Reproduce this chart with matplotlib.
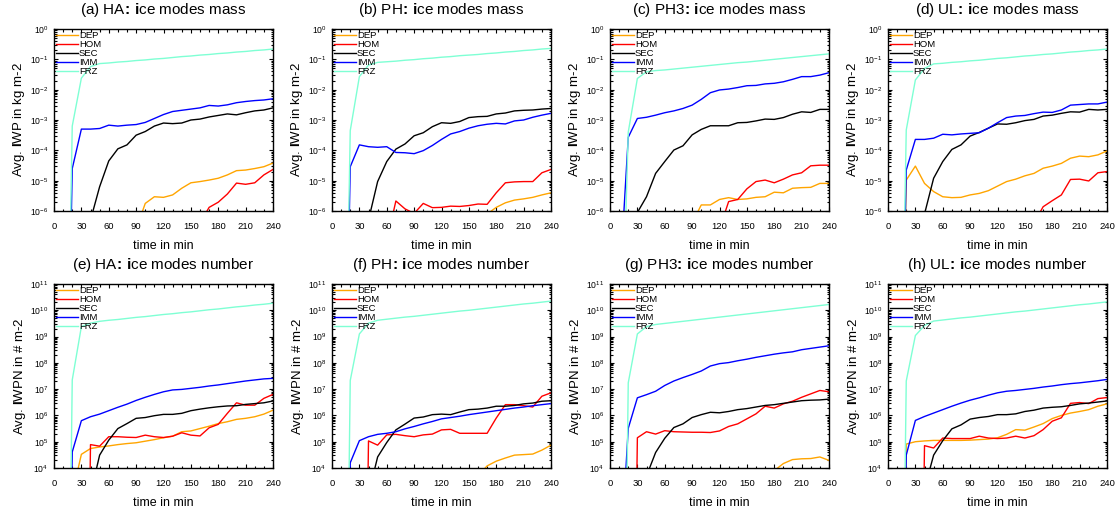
import matplotlib
matplotlib.use("Agg")
import matplotlib.pyplot as plt
import numpy as np
from matplotlib.ticker import MultipleLocator, LogLocator, NullFormatter

plt.rcParams['font.family'] = ['Liberation Sans', 'DejaVu Sans']
plt.rcParams['mathtext.fontset'] = 'custom'
plt.rcParams['mathtext.rm'] = 'Liberation Sans'
plt.rcParams['mathtext.it'] = 'Liberation Sans:italic'
plt.rcParams['mathtext.bf'] = 'Liberation Sans:bold'

time = np.arange(0, 250, 10)  # minutes
labels = ['DEP', 'HOM', 'SEC', 'IMM', 'FRZ']
colors = ['#FFA500', '#FF0000', '#000000', '#0000FF', '#7FFFD4']

# values below are log10 of the plotted quantity (-20 = no ice yet)
# (a) HA mass, kg m-2
ha_mass_dep = [-20, -20, -20, -20, -20, -20, -20, -20, -20, -6.6, -5.75, -5.53, -5.55, -5.47, -5.25, -5.07, -5.03, -4.98, -4.92, -4.81, -4.67, -4.65, -4.6, -4.54, -4.42]
ha_mass_hom = [-20, -20, -20, -20, -20, -20, -20, -20, -20, -20, -20, -20, -20, -20, -20, -20, -6.4, -5.88, -5.71, -5.44, -5.08, -5.12, -5.07, -4.81, -4.63]
ha_mass_sec = [-20, -20, -20, -20, -6.3, -5.2, -4.35, -3.95, -3.82, -3.5, -3.38, -3.2, -3.1, -3.12, -3.1, -3.0, -2.97, -2.9, -2.85, -2.8, -2.83, -2.76, -2.7, -2.67, -2.6]
ha_mass_imm = [-20, -20, -4.6, -3.3, -3.3, -3.28, -3.17, -3.2, -3.17, -3.15, -3.08, -2.95, -2.82, -2.72, -2.68, -2.64, -2.6, -2.52, -2.54, -2.5, -2.43, -2.39, -2.36, -2.34, -2.3]
ha_mass_frz = [-20, -20, -3.2, -1.62, -1.24, -1.14, -1.12, -1.09, -1.07, -1.04, -1.02, -0.99, -0.97, -0.94, -0.91, -0.89, -0.86, -0.84, -0.81, -0.79, -0.76, -0.74, -0.71, -0.69, -0.66]

# (b) PH mass
ph_mass_dep = [-20, -20, -20, -20, -20, -20, -20, -20, -20, -20, -20, -20, -20, -20, -20, -20, -20, -6.1, -5.88, -5.73, -5.64, -5.6, -5.55, -5.47, -5.4]
ph_mass_hom = [-20, -20, -20, -20, -20, -20, -7.0, -5.67, -5.93, -6.08, -5.75, -5.89, -5.88, -5.84, -5.85, -5.82, -5.77, -5.78, -5.4, -5.07, -5.04, -5.03, -5.03, -4.74, -4.63]
ph_mass_sec = [-20, -20, -20, -20, -6.3, -5.03, -4.37, -3.96, -3.79, -3.52, -3.42, -3.22, -3.09, -3.11, -3.05, -2.92, -2.89, -2.88, -2.8, -2.77, -2.7, -2.68, -2.67, -2.64, -2.62]
ph_mass_imm = [-20, -20, -4.54, -3.82, -3.88, -3.9, -3.88, -4.07, -4.08, -4.11, -4.01, -3.84, -3.64, -3.46, -3.38, -3.27, -3.19, -3.14, -3.11, -3.13, -3.03, -3.0, -2.91, -2.84, -2.78]
ph_mass_frz = [-20, -20, -3.35, -1.57, -1.19, -1.1, -1.08, -1.06, -1.03, -1.01, -0.98, -0.96, -0.93, -0.91, -0.88, -0.86, -0.84, -0.81, -0.79, -0.76, -0.74, -0.71, -0.69, -0.66, -0.64]

# (c) PH3 mass
ph3_mass_dep = [-20, -20, -20, -20, -20, -20, -20, -20, -20, -6.4, -5.8, -5.8, -5.62, -5.56, -5.62, -5.6, -5.55, -5.53, -5.38, -5.4, -5.25, -5.23, -5.22, -5.09, -5.09]
ph3_mass_hom = [-20, -20, -20, -20, -20, -20, -20, -20, -20, -20, -20, -20, -6.6, -5.69, -5.62, -5.27, -5.03, -4.98, -5.07, -4.95, -4.81, -4.74, -4.51, -4.49, -4.49]
ph3_mass_sec = [-20, -20, -20, -6.05, -5.53, -4.76, -4.37, -3.99, -3.85, -3.49, -3.31, -3.19, -3.19, -3.19, -3.09, -3.08, -3.03, -2.97, -2.98, -2.92, -2.81, -2.73, -2.75, -2.65, -2.65]
ph3_mass_imm = [-20, -8.7, -3.57, -2.95, -2.91, -2.84, -2.76, -2.7, -2.62, -2.51, -2.32, -2.1, -2.01, -1.98, -1.93, -1.87, -1.86, -1.81, -1.79, -1.74, -1.66, -1.57, -1.57, -1.52, -1.44]
ph3_mass_frz = [-20, -13.8, -3.4, -1.63, -1.41, -1.37, -1.35, -1.32, -1.29, -1.26, -1.23, -1.2, -1.17, -1.14, -1.11, -1.09, -1.06, -1.03, -1.0, -0.97, -0.94, -0.91, -0.88, -0.85, -0.82]

# (d) UL mass
ul_mass_dep = [-20, -20, -4.98, -4.52, -5.09, -5.36, -5.53, -5.56, -5.55, -5.47, -5.42, -5.33, -5.18, -5.03, -4.95, -4.84, -4.76, -4.59, -4.52, -4.43, -4.26, -4.19, -4.21, -4.15, -4.02]
ul_mass_hom = [-20, -20, -20, -20, -20, -20, -20, -20, -20, -20, -20, -20, -20, -20, -20, -20, -6.4, -5.86, -5.66, -5.47, -4.96, -4.95, -5.01, -4.74, -4.7]
ul_mass_sec = [-20, -20, -20, -20, -6.1, -4.92, -4.37, -3.97, -3.82, -3.53, -3.41, -3.27, -3.13, -3.14, -3.09, -3.02, -2.98, -2.87, -2.84, -2.78, -2.73, -2.74, -2.65, -2.67, -2.65]
ul_mass_imm = [-20, -20, -4.65, -3.64, -3.64, -3.6, -3.47, -3.49, -3.46, -3.44, -3.42, -3.27, -3.09, -2.92, -2.87, -2.85, -2.79, -2.74, -2.75, -2.67, -2.51, -2.49, -2.47, -2.47, -2.41]
ul_mass_frz = [-20, -20, -3.33, -1.68, -1.3, -1.15, -1.13, -1.1, -1.08, -1.05, -1.03, -1.0, -0.97, -0.95, -0.92, -0.89, -0.87, -0.84, -0.82, -0.79, -0.76, -0.74, -0.71, -0.69, -0.66]

# (e) HA number, # m-2
ha_num_dep = [-20, -20, 3.0, 4.52, 4.74, 4.8, 4.84, 4.89, 4.93, 4.96, 5.02, 5.08, 5.15, 5.21, 5.38, 5.41, 5.5, 5.59, 5.69, 5.76, 5.85, 5.89, 5.95, 6.05, 6.2]
ha_num_hom = [-20, -20, -20, -20, 4.89, 4.83, 5.19, 5.19, 5.17, 5.16, 5.25, 5.19, 5.16, 5.21, 5.34, 5.25, 5.22, 5.53, 5.66, 6.08, 6.48, 6.39, 6.39, 6.65, 6.8]
ha_num_sec = [-20, -20, -20, -20, 3.0, 4.49, 5.06, 5.5, 5.69, 5.89, 5.92, 5.99, 6.04, 6.04, 6.08, 6.18, 6.24, 6.29, 6.33, 6.36, 6.37, 6.42, 6.45, 6.48, 6.55]
ha_num_imm = [-20, -20, 4.61, 5.8, 5.95, 6.05, 6.18, 6.31, 6.43, 6.57, 6.69, 6.8, 6.9, 6.97, 6.99, 7.03, 7.07, 7.12, 7.16, 7.21, 7.26, 7.31, 7.35, 7.39, 7.41]
ha_num_frz = [-20, -20, 7.35, 9.38, 9.51, 9.58, 9.62, 9.65, 9.69, 9.73, 9.76, 9.8, 9.84, 9.87, 9.91, 9.94, 9.98, 10.02, 10.05, 10.09, 10.13, 10.16, 10.2, 10.23, 10.27]

# (f) PH number
ph_num_dep = [-20, -20, -20, -20, -20, -20, -20, -20, -20, -20, -20, -20, -20, -20, -20, -20, 3.7, 4.08, 4.26, 4.38, 4.49, 4.51, 4.53, 4.68, 4.87]
ph_num_hom = [-20, -20, -20, -20, 5.03, 4.87, 5.26, 5.28, 5.23, 5.19, 5.26, 5.29, 5.45, 5.47, 5.32, 5.32, 5.32, 5.32, 5.9, 6.41, 6.41, 6.37, 6.32, 6.73, 6.86]
ph_num_sec = [-20, -20, -20, -20, 3.0, 4.42, 4.97, 5.45, 5.67, 5.9, 5.94, 6.03, 6.05, 6.03, 6.13, 6.22, 6.24, 6.28, 6.35, 6.35, 6.38, 6.44, 6.47, 6.54, 6.56]
ph_num_imm = [-20, -20, 4.2, 5.04, 5.19, 5.28, 5.32, 5.38, 5.49, 5.58, 5.68, 5.77, 5.87, 5.92, 5.97, 6.03, 6.08, 6.13, 6.18, 6.23, 6.28, 6.32, 6.37, 6.41, 6.45]
ph_num_frz = [-20, -20, 7.33, 9.1, 9.51, 9.62, 9.66, 9.7, 9.74, 9.77, 9.81, 9.85, 9.89, 9.93, 9.97, 10.0, 10.04, 10.08, 10.12, 10.16, 10.2, 10.24, 10.27, 10.31, 10.35]

# (g) PH3 number
ph3_num_dep = [-20, -20, -20, -20, -20, -20, -20, -20, -20, -20, -20, -20, -20, -20, -20, -20, -20, -20, 3.9, 4.17, 4.32, 4.35, 4.36, 4.42, 4.29]
ph3_num_hom = [-20, -20, -20, 5.15, 5.38, 5.29, 5.42, 5.38, 5.37, 5.36, 5.36, 5.35, 5.41, 5.58, 5.68, 5.87, 6.06, 6.35, 6.28, 6.44, 6.54, 6.69, 6.82, 6.95, 6.9]
ph3_num_sec = [-20, -20, -20, -20, 3.7, 4.59, 5.13, 5.54, 5.68, 5.92, 6.03, 6.12, 6.1, 6.15, 6.22, 6.26, 6.32, 6.38, 6.41, 6.46, 6.51, 6.56, 6.58, 6.59, 6.62]
ph3_num_imm = [-20, -0.5, 5.51, 6.67, 6.79, 6.92, 7.14, 7.31, 7.44, 7.56, 7.69, 7.88, 7.97, 8.01, 8.08, 8.14, 8.21, 8.27, 8.33, 8.38, 8.42, 8.5, 8.55, 8.6, 8.65]
ph3_num_frz = [-20, -20, 7.24, 9.1, 9.38, 9.46, 9.5, 9.54, 9.58, 9.62, 9.66, 9.7, 9.74, 9.78, 9.82, 9.86, 9.9, 9.94, 9.98, 10.02, 10.06, 10.1, 10.14, 10.18, 10.22]

# (h) UL number
ul_num_dep = [-20, -20, 4.91, 5.0, 5.03, 5.05, 5.05, 5.05, 5.05, 5.06, 5.08, 5.1, 5.15, 5.28, 5.46, 5.44, 5.56, 5.69, 5.88, 6.0, 6.09, 6.15, 6.22, 6.35, 6.44]
ul_num_hom = [-20, -20, -20, -20, 4.85, 4.76, 5.14, 5.12, 5.12, 5.12, 5.21, 5.14, 5.12, 5.14, 5.21, 5.14, 5.23, 5.46, 5.78, 5.91, 6.46, 6.49, 6.45, 6.64, 6.68]
ul_num_sec = [-20, -20, -20, -20, 3.2, 4.49, 5.04, 5.49, 5.64, 5.86, 5.92, 5.96, 6.03, 6.03, 6.06, 6.15, 6.2, 6.28, 6.31, 6.33, 6.38, 6.44, 6.47, 6.51, 6.55]
ul_num_imm = [-20, -20, 4.49, 5.81, 5.96, 6.09, 6.22, 6.35, 6.47, 6.58, 6.67, 6.77, 6.86, 6.92, 6.95, 6.99, 7.03, 7.08, 7.12, 7.17, 7.21, 7.24, 7.28, 7.32, 7.37]
ul_num_frz = [-20, -20, 7.31, 9.04, 9.42, 9.59, 9.63, 9.67, 9.71, 9.74, 9.78, 9.82, 9.86, 9.9, 9.94, 9.97, 10.01, 10.05, 10.09, 10.13, 10.17, 10.21, 10.24, 10.28, 10.32]

panels = [
    ("(a) HA", "mass", [ha_mass_dep, ha_mass_hom, ha_mass_sec, ha_mass_imm, ha_mass_frz]),
    ("(b) PH", "mass", [ph_mass_dep, ph_mass_hom, ph_mass_sec, ph_mass_imm, ph_mass_frz]),
    ("(c) PH3", "mass", [ph3_mass_dep, ph3_mass_hom, ph3_mass_sec, ph3_mass_imm, ph3_mass_frz]),
    ("(d) UL", "mass", [ul_mass_dep, ul_mass_hom, ul_mass_sec, ul_mass_imm, ul_mass_frz]),
    ("(e) HA", "number", [ha_num_dep, ha_num_hom, ha_num_sec, ha_num_imm, ha_num_frz]),
    ("(f) PH", "number", [ph_num_dep, ph_num_hom, ph_num_sec, ph_num_imm, ph_num_frz]),
    ("(g) PH3", "number", [ph3_num_dep, ph3_num_hom, ph3_num_sec, ph3_num_imm, ph3_num_frz]),
    ("(h) UL", "number", [ul_num_dep, ul_num_hom, ul_num_sec, ul_num_imm, ul_num_frz]),
]

W, H = 1120, 513
fig = plt.figure(figsize=(W / 100, H / 100), dpi=100)

lefts = [54, 332, 610, 888]
rows = [(29, 182), (284, 184)]

for i, (name, kind, series) in enumerate(panels):
    r, c = divmod(i, 4)
    top, hgt = rows[r]
    ax = fig.add_axes([lefts[c] / W, 1 - (top + hgt) / H, 219 / W, hgt / H])
    for vals, lab, col in zip(series, labels, colors):
        ax.plot(time, 10.0 ** np.array(vals), color=col, lw=1.0, label=lab)
    ax.set_yscale('log')
    ax.set_xlim(0, 240)
    if kind == "mass":
        ax.set_ylim(1e-6, 1e0)
        ax.set_ylabel(r"Avg. $\mathbf{I}$WP in kg m-2", fontsize=9.5, labelpad=2)
    else:
        ax.set_ylim(1e4, 1e11)
        ax.set_ylabel(r"Avg. $\mathbf{I}$WPN in # m-2", fontsize=9.5, labelpad=2)
    ax.set_title(name + r"$\!\mathbf{:}\!$ $\mathbf{i}$ce modes " + kind, fontsize=11, pad=11)
    ax.set_xlabel("time in min", fontsize=9, labelpad=6.5)
    ax.xaxis.set_major_locator(MultipleLocator(30))
    ax.xaxis.set_minor_locator(MultipleLocator(10))
    ax.yaxis.set_major_locator(LogLocator(base=10, numticks=20))
    ax.yaxis.set_minor_locator(LogLocator(base=10, subs=np.arange(2, 10), numticks=20))
    ax.yaxis.set_minor_formatter(NullFormatter())
    ax.tick_params(which='both', direction='in', top=True, right=True, width=0.8)
    ax.tick_params(which='major', length=3.2)
    ax.tick_params(which='minor', length=1.8)
    ax.tick_params(axis='x', labelsize=6.8, pad=8)
    ax.tick_params(axis='y', labelsize=6.2, pad=4)
    for s in ax.spines.values():
        s.set_linewidth(1.0)
    ax.legend(loc='upper left', bbox_to_anchor=(0, 1), frameon=False, fontsize=6.8,
              handlelength=2.3, handletextpad=0.1, labelspacing=0.0,
              borderaxespad=0.0, borderpad=0.25)

fig.savefig('out.png', dpi=100)
